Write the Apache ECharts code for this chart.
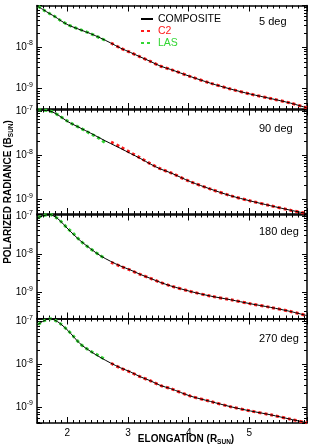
<!DOCTYPE html>
<html>
<head>
<meta charset="utf-8">
<script src="https://cdn.jsdelivr.net/npm/echarts@6/dist/echarts.min.js"></script>
<style>
  html, body { margin: 0; padding: 0; background: #fff; }
  #chart { width: 313px; height: 446px; }
</style>
</head>
<body>
<div id="chart"></div>
<script>
// ---------- DATA ----------
const ELONG = [1.5, 1.6, 1.71, 1.8, 1.88, 2.01, 2.21, 2.38, 2.54, 2.71, 2.87, 3.04, 3.2, 3.37, 3.53, 3.7, 4.03, 4.36, 4.69, 5.02, 5.35, 5.68, 5.95];
const COMP_5   = [9.7e-8, 7.9e-8, 6.3e-8, 5.3e-8, 4.4e-8, 3.4e-8, 2.6e-8, 2.1e-8, 1.66e-8, 1.26e-8, 9.5e-9, 7.4e-9, 5.8e-9, 4.5e-9, 3.5e-9, 2.9e-9, 1.95e-9, 1.35e-9, 9.8e-10, 7.4e-10, 5.8e-10, 4.5e-10, 3.45e-10];
const COMP_90  = [1.08e-7, 1.06e-7, 1.02e-7, 9.0e-8, 7.7e-8, 5.8e-8, 4.2e-8, 3.2e-8, 2.45e-8, 1.86e-8, 1.45e-8, 1.1e-8, 8.5e-9, 6.3e-9, 4.9e-9, 4.0e-9, 2.5e-9, 1.7e-9, 1.2e-9, 9.1e-10, 7.1e-10, 5.6e-10, 4.7e-10];
const COMP_180 = [8.9e-8, 1.02e-7, 1.1e-7, 9.5e-8, 7.6e-8, 4.6e-8, 2.3e-8, 1.41e-8, 9.3e-9, 6.6e-9, 5.0e-9, 3.9e-9, 3.0e-9, 2.35e-9, 1.86e-9, 1.5e-9, 1.07e-9, 8.1e-10, 6.5e-10, 5.1e-10, 4.1e-10, 3.2e-10, 2.5e-10];
const COMP_270 = [8.1e-8, 1.0e-7, 1.15e-7, 1.05e-7, 8.9e-8, 6.1e-8, 3.0e-8, 2.0e-8, 1.45e-8, 1.07e-8, 8.3e-9, 6.6e-9, 5.1e-9, 4.1e-9, 3.2e-9, 2.7e-9, 1.8e-9, 1.35e-9, 1.02e-9, 8.1e-10, 6.6e-10, 5.2e-10, 4.3e-10];

const LAS_X = [1.52, 1.6, 1.71, 1.8, 1.88, 2.01, 2.1, 2.21, 2.3, 2.38, 2.46, 2.54, 2.62];
const LAS_5   = [9.5e-8, 7.9e-8, 6.3e-8, 5.3e-8, 4.4e-8, 3.4e-8, 3.0e-8, 2.6e-8, 2.35e-8, 2.1e-8, 1.85e-8, 1.66e-8, 1.45e-8];
const LAS_90  = [1.08e-7, 1.06e-7, 1.02e-7, 9.0e-8, 7.7e-8, 5.9e-8, 5.0e-8, 4.2e-8, 3.6e-8, 3.1e-8, 2.75e-8, 2.35e-8, 1.95e-8];
const LAS_180 = [9.2e-8, 1.02e-7, 1.1e-7, 9.5e-8, 7.6e-8, 4.7e-8, 3.5e-8, 2.3e-8, 1.75e-8, 1.4e-8, 1.15e-8, 9.3e-9, 7.9e-9];
const LAS_270 = [8.4e-8, 1.0e-7, 1.15e-7, 1.05e-7, 8.9e-8, 6.1e-8, 4.5e-8, 3.0e-8, 2.4e-8, 2.0e-8, 1.75e-8, 1.5e-8, 1.3e-8];

const C2_X = [2.72, 2.87, 3.04, 3.2, 3.37, 3.53, 3.7, 4.03, 4.36, 4.69, 5.02, 5.35, 5.68, 5.95];
const C2_5   = [1.25e-8, 9.5e-9, 7.4e-9, 5.8e-9, 4.5e-9, 3.5e-9, 2.9e-9, 1.95e-9, 1.35e-9, 9.8e-10, 7.4e-10, 5.8e-10, 4.5e-10, 3.45e-10];
const C2_90  = [2.0e-8, 1.55e-8, 1.15e-8, 8.7e-9, 6.4e-9, 4.95e-9, 4.0e-9, 2.5e-9, 1.7e-9, 1.2e-9, 9.1e-10, 7.1e-10, 5.6e-10, 4.7e-10];
const C2_180 = [6.2e-9, 4.9e-9, 3.85e-9, 3.0e-9, 2.35e-9, 1.86e-9, 1.5e-9, 1.07e-9, 8.1e-10, 6.5e-10, 5.1e-10, 4.1e-10, 3.2e-10, 2.5e-10];
const C2_270 = [1.05e-8, 8.2e-9, 6.5e-9, 5.1e-9, 4.1e-9, 3.2e-9, 2.7e-9, 1.8e-9, 1.35e-9, 1.02e-9, 8.1e-10, 6.6e-10, 5.2e-10, 4.3e-10];

const PANEL_LABELS = ['5 deg', '90 deg', '180 deg', '270 deg'];
const Y_MIN = [3.25e-10, 4.6e-10, 2.1e-10, 4.25e-10];
const Y_MAX = [9.9e-8, 1.1e-7, 1.1e-7, 1.16e-7];
const X_MIN = 1.5, X_MAX = 5.95;
const SERIES_NAMES = ['COMPOSITE', 'C2', 'LAS'];

// ---------- LAYOUT ----------
const FONT = 'Liberation Sans, Arial, Helvetica, sans-serif';
const RED = '#ff1a1a', GREEN = '#33d633';
const panels = [
  { top: 5.5, height: 103.5, comp: COMP_5, las: LAS_5, c2: C2_5 },
  { top: 109.5, height: 104.5, comp: COMP_90, las: LAS_90, c2: C2_90 },
  { top: 214.5, height: 104, comp: COMP_180, las: LAS_180, c2: C2_180 },
  { top: 318.5, height: 104.5, comp: COMP_270, las: LAS_270, c2: C2_270 }
];
const labelY = [23, 130, 233, 340];

const pair = (xs, ys) => xs.map((x, i) => [x, ys[i]]);

const grid = [], xAxis = [], yAxis = [], series = [], graphic = [];
const axisLine = { show: true, lineStyle: { color: '#000', width: 1.5 } };

panels.forEach((p, i) => {
  grid.push({ left: 37, right: 6, top: p.top, height: p.height, containLabel: false });
  const isLast = i === panels.length - 1;
  const xBase = {
    type: 'value', gridIndex: i, min: X_MIN, max: X_MAX,
    axisLine: axisLine, splitLine: { show: false },
    axisTick: { show: true, inside: true, length: 6, lineStyle: { color: '#000', width: 1 } },
    minorTick: { show: true, splitNumber: 10, length: 3, lineStyle: { color: '#000', width: 1 } }
  };
  xAxis.push(Object.assign({}, xBase, {
    position: 'bottom',
    axisLabel: {
      show: isLast, color: '#000', fontSize: 10, fontFamily: FONT, margin: 5,
      showMinLabel: false, showMaxLabel: false,
      formatter: v => Math.abs(v - Math.round(v)) < 1e-6 ? String(Math.round(v)) : ''
    }
  }));
  xAxis.push(Object.assign({}, xBase, { position: 'top', axisLabel: { show: false } }));

  const yBase = {
    type: 'log', logBase: 10, gridIndex: i, min: Y_MIN[i], max: Y_MAX[i],
    axisLine: axisLine, splitLine: { show: false },
    axisTick: { show: true, inside: true, length: 5, lineStyle: { color: '#000', width: 1 } },
    minorTick: { show: true, splitNumber: 8, length: 3, lineStyle: { color: '#000', width: 1 } }
  };
  yAxis.push(Object.assign({}, yBase, {
    position: 'left',
    axisLabel: {
      show: true, margin: 4, fontFamily: FONT, color: '#000',
      formatter: v => {
        const e = Math.log10(v), r = Math.round(e);
        if (Math.abs(e - r) > 1e-3) return '';
        return '{a|10}{b|' + r + '}';
      },
      rich: {
        a: { fontSize: 10, fontFamily: FONT, color: '#000' },
        b: { fontSize: 7, fontFamily: FONT, color: '#000', padding: [0, 0, 7, 0] }
      }
    }
  }));
  yAxis.push(Object.assign({}, yBase, { position: 'right', axisLabel: { show: false } }));

  const xi = i * 2, yi = i * 2;
  series.push({
    name: 'C2', type: 'line', xAxisIndex: xi, yAxisIndex: yi, data: pair(C2_X, p.c2),
    showSymbol: false, symbol: 'none', smooth: 0.3, color: RED,
    lineStyle: { color: RED, width: 3, type: [3, 3] }, silent: true, z: 2
  });
  series.push({
    name: 'LAS', type: 'line', xAxisIndex: xi, yAxisIndex: yi, data: pair(LAS_X, p.las),
    showSymbol: false, symbol: 'none', smooth: 0.3, color: GREEN,
    lineStyle: { color: GREEN, width: 3, type: [3, 3] }, silent: true, z: 2
  });
  series.push({
    name: 'COMPOSITE', type: 'line', xAxisIndex: xi, yAxisIndex: yi, data: pair(ELONG, p.comp),
    showSymbol: false, symbol: 'none', smooth: 0.3, color: '#000',
    lineStyle: { color: '#000', width: 1 }, silent: true, z: 3
  });

  graphic.push({
    type: 'text', left: 259, top: labelY[i] - 7,
    style: { text: PANEL_LABELS[i], fontSize: 11, fontFamily: FONT, fill: '#000' }
  });
});

graphic.push({
  type: 'text', x: 8, y: 192, rotation: Math.PI / 2,
  style: {
    text: '{t|POLARIZED RADIANCE (B}{s|SUN}{t|)}',
    align: 'center', verticalAlign: 'middle',
    rich: {
      t: { fontSize: 10, fontWeight: 'bold', fontFamily: FONT, fill: '#000' },
      s: { fontSize: 6.5, fontWeight: 'bold', fontFamily: FONT, fill: '#000', padding: [6, 0, 0, 0] }
    }
  }
});
graphic.push({
  type: 'text', x: 186, y: 439,
  style: {
    text: '{t|ELONGATION (R}{s|SUN}{t|)}',
    align: 'center', verticalAlign: 'middle',
    rich: {
      t: { fontSize: 10, fontWeight: 'bold', fontFamily: FONT, fill: '#000' },
      s: { fontSize: 6.5, fontWeight: 'bold', fontFamily: FONT, fill: '#000', padding: [6, 0, 0, 0] }
    }
  }
});

const chart = echarts.init(document.getElementById('chart'), null, { renderer: 'canvas' });
chart.setOption({
  animation: false,
  backgroundColor: '#fff',
  grid, xAxis, yAxis, series, graphic,
  legend: {
    left: 140, top: 13, padding: 0, orient: 'vertical', itemWidth: 12, itemHeight: 8, itemGap: 0,
    selectedMode: false,
    itemStyle: { color: 'transparent', borderColor: 'transparent', borderWidth: 0, opacity: 0 },
    textStyle: { fontSize: 10.5, lineHeight: 12, fontFamily: FONT },
    data: [
      { name: 'COMPOSITE', textStyle: { color: '#000' } },
      { name: 'C2', textStyle: { color: RED } },
      { name: 'LAS', textStyle: { color: GREEN } }
    ]
  }
});
</script>
</body>
</html>
